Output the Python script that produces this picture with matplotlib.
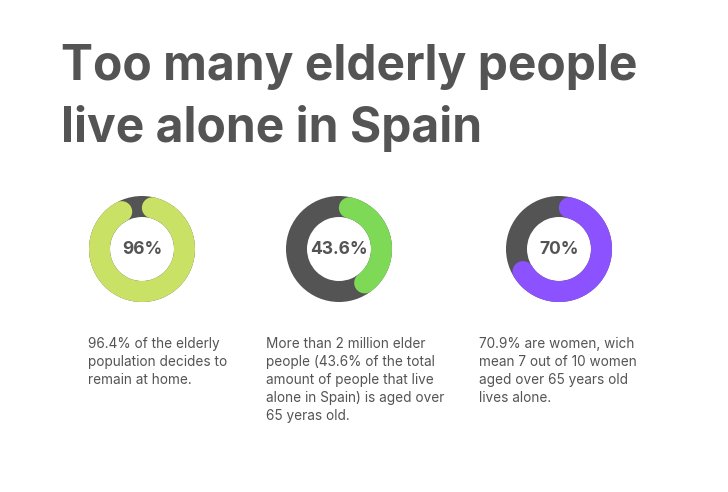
import numpy as np
import matplotlib
matplotlib.use("Agg")
from matplotlib import pyplot as plt
from matplotlib.patches import Polygon, Wedge

# data
title_lines = ["Too many elderly people", "live alone in Spain"]
labels = ["96%", "43.6%", "70%"]
values = [96, 43.6, 70]
colors = ["#c9e265", "#7ed957", "#8c52ff"]
notes = [
    ["96.4% of the elderly", "population decides to", "remain at home."],
    ["More than 2 million elder", "people (43.6% of the total",
     "amount of people that live", "alone in Spain) is aged over",
     "65 yeras old."],
    ["70.9% are women, wich", "mean 7 out of 10 women",
     "aged over 65 years old", "lives alone."],
]

dark = "#545454"
plt.rcParams["font.family"] = ["Inter", "DejaVu Sans"]

fig = plt.figure(figsize=(7.28, 4.92), dpi=100)
fig.patch.set_facecolor("white")
ax = fig.add_axes([0, 0, 1, 1])
ax.set_xlim(0, 728)
ax.set_ylim(492, 0)
ax.axis("off")

# title
ax.text(61, 80, title_lines[0], fontsize=34.5, fontweight="bold", color=dark, va="baseline")
ax.text(61, 142, title_lines[1], fontsize=34.5, fontweight="bold", color=dark, va="baseline")


def arc_shape(cx, cy, ri, ro, frac):
    # rounded progress arc, clockwise from 12 o'clock, caps kept inside the span
    rm = (ri + ro) / 2
    hw = (ro - ri) / 2
    d = hw / rm
    t0, t1 = 0 + d, frac * 2 * np.pi - d
    a = np.linspace(t0, t1, 300)
    pts = [np.column_stack([cx + ro * np.sin(a), cy - ro * np.cos(a)])]
    phi = np.linspace(0, np.pi, 40)
    c = np.array([cx + rm * np.sin(t1), cy - rm * np.cos(t1)])
    u = np.array([np.sin(t1), -np.cos(t1)])
    t = np.array([np.cos(t1), np.sin(t1)])
    pts.append(c + hw * (np.cos(phi)[:, None] * u + np.sin(phi)[:, None] * t))
    a2 = a[::-1]
    pts.append(np.column_stack([cx + ri * np.sin(a2), cy - ri * np.cos(a2)]))
    c = np.array([cx + rm * np.sin(t0), cy - rm * np.cos(t0)])
    u = np.array([np.sin(t0), -np.cos(t0)])
    t = np.array([np.cos(t0), np.sin(t0)])
    phi = np.linspace(np.pi, 0, 40)
    pts.append(c + hw * (np.cos(phi)[:, None] * u - np.sin(phi)[:, None] * t))
    return np.vstack(pts)


centers = [142, 339, 559]
cy = 249
r_out, r_in = 53, 32
text_x = [88, 266, 479]

for i in range(3):
    cx = centers[i]
    ax.add_patch(Wedge((cx, cy), r_out, 0, 360, width=r_out - r_in,
                       facecolor=dark, edgecolor="none"))
    ax.add_patch(Polygon(arc_shape(cx, cy, r_in, r_out, values[i] / 100),
                         closed=True, facecolor=colors[i], edgecolor="none"))
    ax.text(cx, cy, labels[i], fontsize=12.5, fontweight="bold", color=dark,
            ha="center", va="center")
    for j, line in enumerate(notes[i]):
        ax.text(text_x[i], 348 + j * 18, line, fontsize=9.8, color=dark, va="baseline")

fig.savefig("out.png", dpi=100)
